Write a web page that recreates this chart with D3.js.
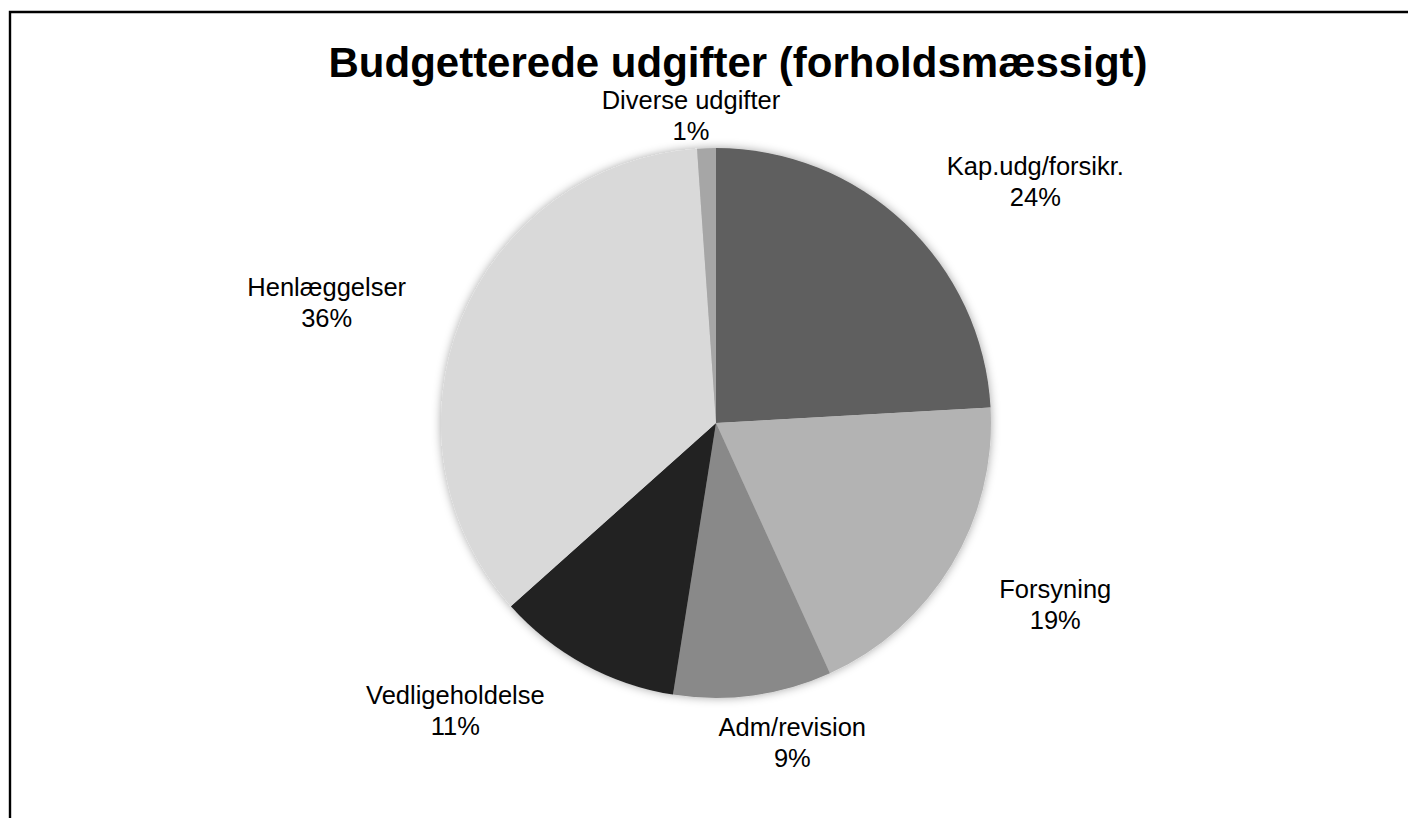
<!DOCTYPE html>
<html>
<head>
<meta charset="utf-8">
<script src="https://cdn.jsdelivr.net/npm/d3@7"></script>
<style>
  html, body { margin: 0; padding: 0; background: #fff; }
  svg { display: block; }
  text { font-family: "Liberation Sans", Arial, sans-serif; fill: #000; }
</style>
</head>
<body>
<svg id="chart" width="1408" height="818"></svg>
<script>
// categories, clockwise from 12 o'clock
const categories = ["Kap.udg/forsikr.", "Forsyning", "Adm/revision", "Vedligeholdelse", "Henlæggelser", "Diverse udgifter"];
// shares (percent)
const shares = [24.1, 19.1, 9.3, 10.9, 35.5, 1.1];
// percentages printed in the labels
const shareLabels = ["24%", "19%", "9%", "11%", "36%", "1%"];
const sliceColors = ["#5f5f5f", "#b3b3b3", "#898989", "#222222", "#d9d9d9", "#a6a6a6"];

const title = "Budgetterede udgifter (forholdsmæssigt)";

const width = 1408, height = 818;
const cx = 716, cy = 423, radius = 275;
const labelSize = 25.5, labelGap = 18;
// small hand nudges so labels sit where Excel's best-fit put them
const labelNudge = {
  "Kap.udg/forsikr.": [4, 2],
  "Forsyning": [7, 5],
  "Adm/revision": [17, -1],
  "Vedligeholdelse": [-33, 0],
  "Henlæggelser": [-13, 8],
  "Diverse udgifter": [-9, 16]
};

const svg = d3.select("#chart");

// soft glow/shadow around the pie
const defs = svg.append("defs");
const filter = defs.append("filter").attr("id", "pieShadow")
  .attr("x", "-10%").attr("y", "-10%").attr("width", "120%").attr("height", "120%");
filter.append("feGaussianBlur").attr("in", "SourceAlpha").attr("stdDeviation", 5).attr("result", "blur");
filter.append("feFlood").attr("flood-color", "#000").attr("flood-opacity", 0.35);
filter.append("feComposite").attr("in2", "blur").attr("operator", "in").attr("result", "shadow");
const merge = filter.append("feMerge");
merge.append("feMergeNode").attr("in", "shadow");
merge.append("feMergeNode").attr("in", "SourceGraphic");

// chart frame (cropped on right and bottom)
svg.append("path")
  .attr("d", `M10,${height} V12 H${width}`)
  .attr("fill", "none")
  .attr("stroke", "#000")
  .attr("stroke-width", 2.4);

svg.append("text")
  .attr("x", 738)
  .attr("y", 77)
  .attr("text-anchor", "middle")
  .attr("font-size", 42)
  .attr("font-weight", "bold")
  .text(title);

const rows = categories.map((c, i) => ({ name: c, value: shares[i], label: shareLabels[i], color: sliceColors[i] }));

const pie = d3.pie().sort(null).value(d => d.value);
const arc = d3.arc().innerRadius(0).outerRadius(radius);
const arcs = pie(rows);

const g = svg.append("g").attr("transform", `translate(${cx},${cy})`);

g.append("g")
  .attr("filter", "url(#pieShadow)")
  .selectAll("path")
  .data(arcs)
  .join("path")
  .attr("d", arc)
  .attr("fill", d => d.data.color);

const labels = g.append("g")
  .selectAll("text")
  .data(arcs)
  .join("text")
  .attr("text-anchor", "middle")
  .attr("font-size", labelSize);

labels.append("tspan").attr("class", "l1").text(d => d.data.name);
labels.append("tspan").attr("class", "l2").text(d => d.data.label);

const clamp = v => Math.max(-1, Math.min(1, v));
labels.each(function (d) {
  const t = d3.select(this);
  const a = this.getBBox().width / 2;
  const b = labelSize * 1.2;
  const theta = (d.startAngle + d.endAngle) / 2;
  const s = Math.sin(theta), c = Math.cos(theta);
  const r = radius + labelGap;
  const nudge = labelNudge[d.data.name] || [0, 0];
  const x = r * s + a * clamp(1.6 * s) + nudge[0];
  const y = -r * c - b * clamp(1.6 * c) + nudge[1];
  t.select(".l1").attr("x", x).attr("y", y - 6.5);
  t.select(".l2").attr("x", x).attr("y", y + 24.5);
});
</script>
</body>
</html>
